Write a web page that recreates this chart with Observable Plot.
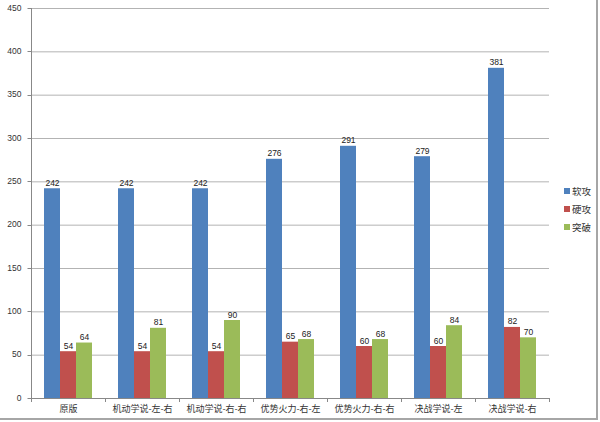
<!DOCTYPE html>
<html>
<head>
<meta charset="utf-8">
<script src="https://cdn.jsdelivr.net/npm/d3@7"></script>
<script src="https://cdn.jsdelivr.net/npm/@observablehq/plot@0.6"></script>
<style>
  html, body { margin: 0; padding: 0; background: #fff; }
  #wrap { position: relative; width: 600px; height: 422px; overflow: hidden;
          font-family: "Liberation Sans", "Noto Sans CJK SC", sans-serif; }
  #borderR { position: absolute; left: 596px; top: 0; width: 2px; height: 420px; background: #a6a6a6; }
  #borderB { position: absolute; left: 0; top: 418px; width: 598px; height: 2px; background: #a6a6a6; }
  #legend { position: absolute; left: 564px; top: 182px; font-size: 9.5px; color: #333;
            font-family: "Noto Sans CJK SC", sans-serif; }
  #legend div { height: 18px; line-height: 18px; display: flex; align-items: center; }
  #legend span.sw { display: inline-block; width: 6px; height: 6px; margin-right: 2px; }
</style>
</head>
<body>
<div id="wrap">
  <div id="chart"></div>
  <div id="legend"></div>
  <div id="borderR"></div>
  <div id="borderB"></div>
</div>
<script>
const categories = ["原版", "机动学说-左-右", "机动学说-右-右", "优势火力-右-左", "优势火力-右-右", "决战学说-左", "决战学说-右"];
const seriesNames = ["软攻", "硬攻", "突破"];
const softAttack = [242, 242, 242, 276, 291, 279, 381];
const hardAttack = [54, 54, 54, 65, 60, 60, 82];
const breakthrough = [64, 81, 90, 68, 68, 84, 70];
const yTicks = [0, 50, 100, 150, 200, 250, 300, 350, 400, 450];
const colors = ["#4F81BD", "#C0504D", "#9BBB59"];

const seriesValues = [softAttack, hardAttack, breakthrough];
const data = [];
categories.forEach((c, i) => {
  seriesNames.forEach((s, j) => data.push({category: c, series: s, value: seriesValues[j][i]}));
});

const chart = Plot.plot({
  width: 600,
  height: 422,
  marginTop: 8,
  marginBottom: 24,
  marginLeft: 29,
  marginRight: 50,
  style: {fontFamily: "'Liberation Sans', 'Noto Sans CJK SC', sans-serif", fontSize: "8.5px", color: "#333", background: "transparent"},
  fx: {domain: categories, padding: 0, label: null, axis: null},
  x: {domain: seriesNames, paddingInner: 0, paddingOuter: 0.73, axis: null},
  y: {domain: [0, 450], ticks: yTicks, label: null, axis: null},
  color: {domain: seriesNames, range: colors},
  marks: [
    Plot.gridY(yTicks, {stroke: "#b3b3b3", strokeOpacity: 1}),
    Plot.barY(data, {fx: "category", x: "series", y: "value", fill: "series", inset: 0}),
    Plot.text(data, {fx: "category", x: "series", y: "value", text: "value", lineAnchor: "bottom", dy: -3, fill: "#222", fontSize: 8.5}),
    Plot.ruleY([0], {stroke: "#888", strokeOpacity: 1}),
    Plot.axisFx({anchor: "bottom", tickSize: 0, tickPadding: 7, fontFamily: "'Noto Sans CJK SC', sans-serif", fontSize: 9, fill: "#333", label: null})
  ]
});

document.getElementById("chart").appendChild(chart);

// Y axis and Excel-style category boundary ticks, drawn from the plot's own scales
const svg = d3.select(chart);
const fx = chart.scale("fx");
const y = chart.scale("y");
const y0 = y.apply(0);
const bounds = categories.map(c => fx.apply(c)).concat([fx.apply(categories[categories.length - 1]) + fx.bandwidth]);
const xLeft = Math.round(bounds[0]) + 0.5;
const g = svg.append("g").attr("stroke", "#888");
g.selectAll("line.b").data(bounds).join("line")
  .attr("x1", d => Math.round(d) + 0.5).attr("x2", d => Math.round(d) + 0.5)
  .attr("y1", y0).attr("y2", y0 + 4);
g.append("line").attr("x1", xLeft).attr("x2", xLeft).attr("y1", y.apply(450)).attr("y2", y0);
g.selectAll("line.t").data(yTicks).join("line")
  .attr("x1", xLeft - 4).attr("x2", xLeft)
  .attr("y1", d => Math.round(y.apply(d)) + 0.5).attr("y2", d => Math.round(y.apply(d)) + 0.5);
svg.append("g")
  .attr("font-family", "'Liberation Sans', sans-serif").attr("font-size", 8.5).attr("fill", "#333")
  .attr("text-anchor", "end")
  .selectAll("text").data(yTicks).join("text")
  .attr("x", xLeft - 10).attr("y", d => y.apply(d)).attr("dy", "0.32em")
  .text(d => d);

// Legend
const legend = document.getElementById("legend");
seriesNames.forEach((s, i) => {
  const row = document.createElement("div");
  const sw = document.createElement("span");
  sw.className = "sw";
  sw.style.background = colors[i];
  row.appendChild(sw);
  row.appendChild(document.createTextNode(s));
  legend.appendChild(row);
});
</script>
</body>
</html>
